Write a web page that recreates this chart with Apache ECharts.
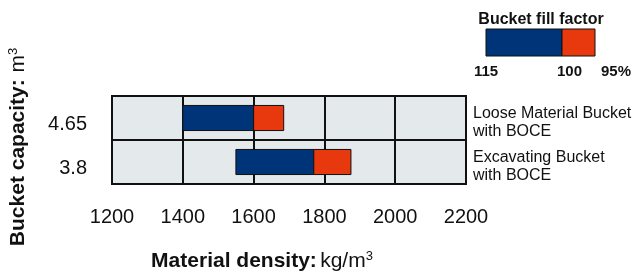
<!DOCTYPE html>
<html>
<head>
<meta charset="utf-8">
<script src="https://cdn.jsdelivr.net/npm/echarts@6/dist/echarts.min.js"></script>
<style>
  html, body { margin: 0; padding: 0; background: #fff; }
  #main { width: 639px; height: 280px; }
</style>
</head>
<body>
<div id="main"></div>
<script>
// bucket types, bottom row first
var buckets = ['3.8', '4.65'];
var bucketNames = ['Excavating Bucket\nwith BOCE', 'Loose Material Bucket\nwith BOCE'];
// material density at fill factor 115%, 100%, 95%
var density115 = [1550, 1400];
var density100 = [1770, 1600];
var density95 = [1875, 1685];
var xTicks = [1200, 1400, 1600, 1800, 2000, 2200];

var FONT = '"Liberation Sans", Arial, sans-serif';
var BLUE = '#003478';
var ORANGE = '#e8380d';

function barItem(params, api) {
	var start = api.coord([api.value(0), api.value(2)]);
	var end = api.coord([api.value(1), api.value(2)]);
	var h = api.size([0, 1])[1] * 0.57;
	return {
		type: 'rect',
		shape: { x: start[0], y: start[1] - h / 2, width: end[0] - start[0], height: h },
		style: { fill: api.visual('color'), stroke: '#111', lineWidth: 1 }
	};
}

function createOption() {
	var blueData = [], orangeData = [];
	for (var i = 0; i < buckets.length; i++) {
		blueData.push([density115[i], density100[i], i]);
		orangeData.push([density100[i], density95[i], i]);
	}
	var axisNameRich = {
		b: { font: 'bold 21px ' + FONT, fill: '#111' },
		n: { font: '21px ' + FONT, fill: '#111' },
		s: { font: '13px ' + FONT, fill: '#111', verticalAlign: 'top', padding: [0, 0, 9, 0] }
	};
	var option = {
		animation: false,
		textStyle: { fontFamily: FONT },
		grid: {
			left: 112, right: 173, top: 96, bottom: 96,
			show: true, backgroundColor: '#e4e9ec', borderColor: '#111', borderWidth: 2
		},
		xAxis: {
			type: 'value', min: xTicks[0], max: xTicks[xTicks.length - 1], interval: 200,
			axisLine: { show: false }, axisTick: { show: false },
			splitLine: { show: true, lineStyle: { color: '#111', width: 2 } },
			axisLabel: { margin: 23, fontSize: 20, color: '#111', fontFamily: FONT,
				formatter: function (v) { return String(v); } }
		},
		yAxis: [{
			type: 'category', data: buckets,
			axisLine: { show: false }, axisTick: { show: false },
			splitLine: { show: true, lineStyle: { color: '#111', width: 2 } },
			axisLabel: { margin: 25, color: '#111',
				formatter: function (v) { return '{sp| }\n{v|' + v + '}'; },
				rich: {
					sp: { fontSize: 10, lineHeight: 12 },
					v: { fontSize: 20, lineHeight: 20, fontFamily: FONT, color: '#111' }
				} }
		}, {
			type: 'category', data: bucketNames, position: 'right',
			axisLine: { show: false }, axisTick: { show: false },
			axisLabel: { margin: 7, align: 'left',
				formatter: function (v) {
					return '{sp| }\n' + v.split('\n').map(function (s) { return '{t|' + s + '}'; }).join('\n');
				},
				rich: {
					sp: { fontSize: 8, lineHeight: 9 },
					t: { fontSize: 16, lineHeight: 18, fontFamily: FONT, color: '#111' }
				} }
		}],
		series: [{
			type: 'custom', renderItem: barItem, data: blueData,
			itemStyle: { color: BLUE }, encode: { x: [0, 1], y: 2 }
		}, {
			type: 'custom', renderItem: barItem, data: orangeData,
			itemStyle: { color: ORANGE }, encode: { x: [0, 1], y: 2 }
		}],
		graphic: [
			// fill factor key
			{ type: 'text', x: 541, y: 20, style: { text: 'Bucket fill factor', font: 'bold 16px ' + FONT, fill: '#111', align: 'center', verticalAlign: 'middle' } },
			{ type: 'rect', shape: { x: 486, y: 29, width: 76, height: 27 }, style: { fill: BLUE, stroke: '#111', lineWidth: 1 } },
			{ type: 'rect', shape: { x: 562, y: 29, width: 33, height: 27 }, style: { fill: ORANGE, stroke: '#111', lineWidth: 1 } },
			{ type: 'text', x: 474, y: 72, style: { text: '115', font: 'bold 15px ' + FONT, fill: '#111', verticalAlign: 'middle' } },
			{ type: 'text', x: 557, y: 72, style: { text: '100', font: 'bold 15px ' + FONT, fill: '#111', verticalAlign: 'middle' } },
			{ type: 'text', x: 601, y: 72, style: { text: '95%', font: 'bold 15px ' + FONT, fill: '#111', verticalAlign: 'middle' } },
			// axis names
			{ type: 'text', x: 262, y: 261, style: {
				text: '{b|Material density:} {n|kg/m}{s|3}', align: 'center', verticalAlign: 'middle', rich: axisNameRich
			} },
			{ type: 'text', x: 18, y: 147, rotation: Math.PI / 2, style: {
				text: '{b|Bucket capacity:}  {n|m}{s|3}', align: 'center', verticalAlign: 'middle', rich: axisNameRich
			} }
		]
	};
	return option;
}

var myChart = echarts.init(document.getElementById('main'));
myChart.setOption(createOption());
</script>
</body>
</html>
